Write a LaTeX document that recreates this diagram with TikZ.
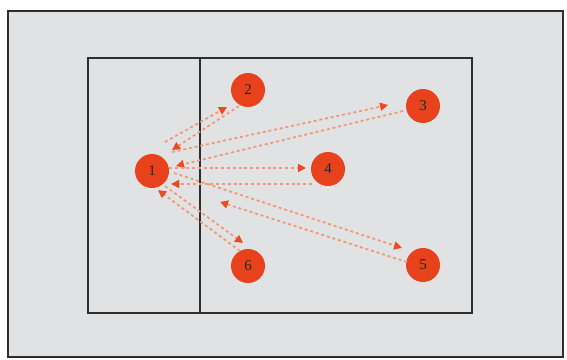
\documentclass[tikz,border=0pt]{standalone}
\usepackage{fontspec}
\setmainfont{Liberation Serif}
\usetikzlibrary{arrows.meta}
\definecolor{fieldgray}{HTML}{E1E2E4}
\definecolor{linegray}{HTML}{2E2E2E}
\definecolor{dotred}{HTML}{E8421D}
\definecolor{dashorange}{HTML}{F09A78}
\definecolor{tipred}{HTML}{EC4A22}
\tikzset{
  player/.style={circle, fill=dotred, minimum size=34pt, inner sep=0pt,
    font=\fontsize{15pt}{15pt}\selectfont, text=black!85},
  pass/.style={draw=dashorange, line width=1.8pt, dash pattern=on 3pt off 2.8pt,
    -{Triangle[length=8pt,width=8pt,color=tipred]}},
}
\begin{document}
\begin{tikzpicture}[x=1pt,y=-1pt]
\useasboundingbox (0,0) rectangle (567,359);
\fill[white] (0,0) rectangle (567,359);
\draw[fill=fieldgray, draw=linegray, line width=2.4pt] (8,11) rectangle (563,357);
\draw[draw=linegray, line width=2.8pt] (88,58) rectangle (472,313);
\draw[draw=linegray, line width=1.8pt] (200,58) -- (200,313);

\node[player] (n1) at (152,171) {1};
\node[player] (n2) at (248,90) {2};
\node[player] (n3) at (423,106) {3};
\node[player] (n4) at (328,169) {4};
\node[player] (n5) at (423,265) {5};
\node[player] (n6) at (248,266) {6};

\draw[pass] ([shift={(13,-29)}]n1.center) -- ([shift={(-21,17)}]n2.center);
\draw[pass] ([shift={(-9,16)}]n2.center) -- ([shift={(20,-21)}]n1.center);
\draw[pass] ([shift={(20,-19)}]n1.center) -- ([shift={(-35,-1)}]n3.center);
\draw[pass] ([shift={(-20,5)}]n3.center) -- ([shift={(24,-5)}]n1.center);
\draw[pass] ([shift={(17,-3)}]n1.center) -- ([shift={(-22,-1)}]n4.center);
\draw[pass] ([shift={(-16,15)}]n4.center) -- ([shift={(19,13)}]n1.center);
\draw[pass] ([shift={(22,2)}]n1.center) -- ([shift={(-21,-17)}]n5.center);
\draw[pass] ([shift={(-16,-3)}]n5.center) -- ([shift={(68,31)}]n1.center);
\draw[pass] ([shift={(13,15)}]n1.center) -- ([shift={(-5,-23)}]n6.center);
\draw[pass] ([shift={(-8,-15)}]n6.center) -- ([shift={(6,19)}]n1.center);
\end{tikzpicture}
\end{document}
